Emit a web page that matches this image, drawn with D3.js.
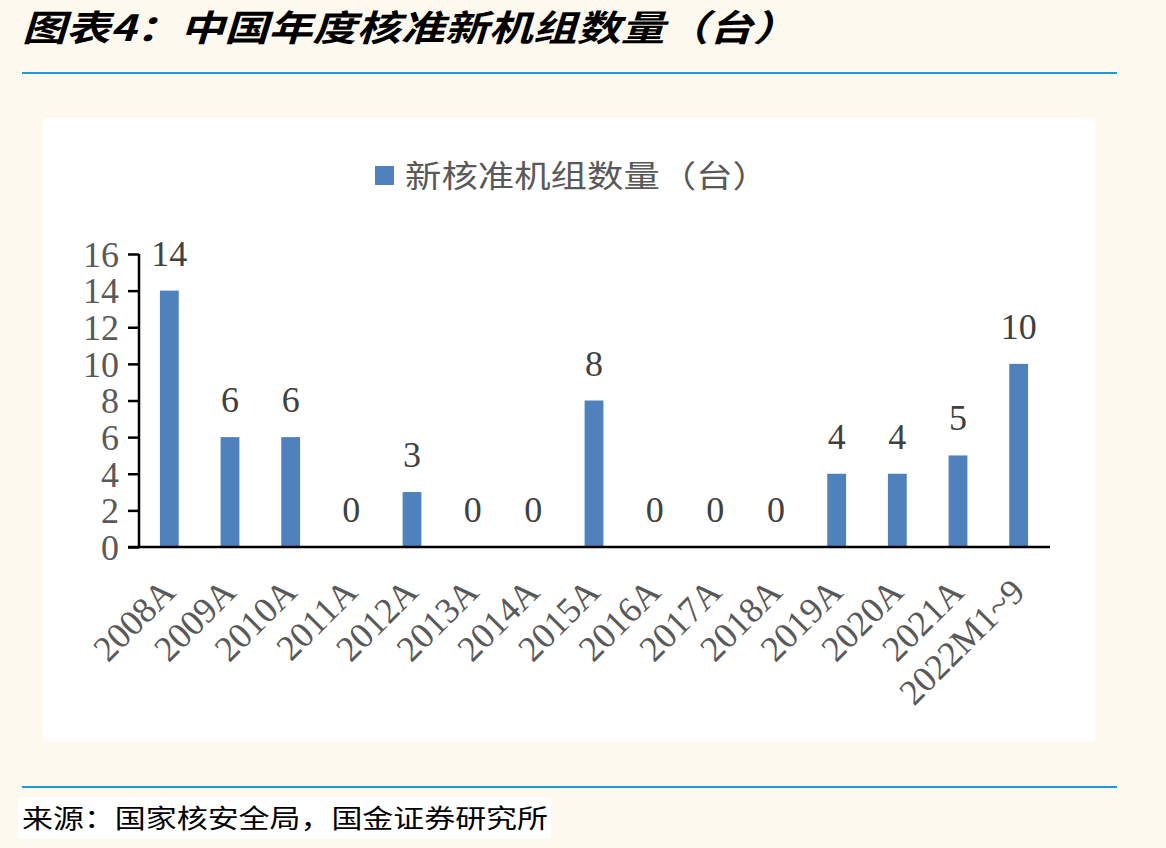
<!DOCTYPE html>
<html><head><meta charset="utf-8">
<script src="https://cdn.jsdelivr.net/npm/d3@7/dist/d3.min.js"></script>
<style>html,body{margin:0;padding:0;background:#fef9ee;}svg{display:block;}</style>
</head><body>
<script>
const categories = ["2008A","2009A","2010A","2011A","2012A","2013A","2014A","2015A","2016A","2017A","2018A","2019A","2020A","2021A","2022M1~9"];
const values = [14,6,6,0,3,0,0,8,0,0,0,4,4,5,10];
const yTicks = [0,2,4,6,8,10,12,14,16];
const seriesName = "新核准机组数量（台）";
const titleText = "图表4：中国年度核准新机组数量（台）";
const sourceText = "来源：国家核安全局，国金证券研究所";

const W = 1166, H = 848;
const svg = d3.select("body").append("svg").attr("width", W).attr("height", H);
svg.append("rect").attr("width", W).attr("height", H).attr("fill", "#fef9ee");

// title
svg.append("text").attr("x", 22).attr("y", 41)
  .attr("font-family", "'Noto Sans CJK SC'").attr("font-weight", "bold").attr("font-style", "italic")
  .attr("font-size", 36).attr("fill", "#000")
  .attr("textLength", 775).attr("lengthAdjust", "spacingAndGlyphs")
  .text(titleText);
svg.append("line").attr("x1", 22).attr("x2", 1117).attr("y1", 73).attr("y2", 73)
  .attr("stroke", "#1a9ad8").attr("stroke-width", 2);

// panel
svg.append("rect").attr("x", 43).attr("y", 118).attr("width", 1052).attr("height", 624).attr("fill", "#ffffff");

// bottom line & source
svg.append("line").attr("x1", 22).attr("x2", 1117).attr("y1", 787).attr("y2", 787)
  .attr("stroke", "#1a9ad8").attr("stroke-width", 2);
svg.append("rect").attr("x", 18).attr("y", 797).attr("width", 533).attr("height", 42).attr("fill", "#ffffff");
svg.append("text").attr("x", 22).attr("y", 828)
  .attr("font-family", "'Noto Sans CJK SC'").attr("font-size", 26).attr("fill", "#000")
  .attr("textLength", 526).attr("lengthAdjust", "spacingAndGlyphs")
  .text(sourceText);

// scales
const x = d3.scaleBand().domain(categories).range([139, 1049]).paddingInner(0.69).paddingOuter(0.345);
const y = d3.scaleLinear().domain([0, 16]).range([547, 254]);

// bars
svg.append("g").selectAll("rect").data(values).join("rect")
  .attr("x", (d, i) => x(categories[i]))
  .attr("width", x.bandwidth())
  .attr("y", d => y(d))
  .attr("height", d => y(0) - y(d))
  .attr("fill", "#4f81bd");

// y axis
const yAxis = svg.append("g").attr("transform", "translate(139,0)")
  .call(d3.axisLeft(y).tickValues(yTicks).tickSize(11).tickPadding(9).tickFormat(d3.format("d")));
yAxis.select(".domain").attr("stroke", "#000").attr("stroke-width", 2.5).attr("d", "M0,254V547");
yAxis.selectAll(".tick line").attr("stroke", "#000").attr("stroke-width", 2.5);
yAxis.selectAll(".tick text").attr("font-family", "'Liberation Serif'").attr("font-size", 36)
  .attr("fill", "#595959").attr("dy", "0.34em");

// x axis
const xAxis = svg.append("g").attr("transform", "translate(0,547)")
  .call(d3.axisBottom(x).tickSize(0).tickPadding(0));
xAxis.select(".domain").attr("stroke", "#000").attr("stroke-width", 2.5).attr("d", "M128,0H1050");
xAxis.selectAll(".tick text")
  .attr("font-family", "'Liberation Serif'").attr("font-size", 36).attr("fill", "#595959")
  .attr("text-anchor", "end").attr("dy", 0).attr("y", 0)
  .attr("transform", "translate(8,47) rotate(-45)");

// data labels
svg.append("g").selectAll("text").data(values).join("text")
  .attr("x", (d, i) => x(categories[i]) + x.bandwidth() / 2)
  .attr("y", d => y(d) - 25)
  .attr("text-anchor", "middle")
  .attr("font-family", "'Liberation Serif'").attr("font-size", 36).attr("fill", "#404040")
  .text(d => d);

// legend
svg.append("rect").attr("x", 375).attr("y", 166).attr("width", 19).attr("height", 19).attr("fill", "#4f81bd");
svg.append("text").attr("x", 405).attr("y", 187)
  .attr("font-family", "'Noto Sans CJK SC'").attr("font-size", 31).attr("fill", "#595959")
  .attr("textLength", 364).attr("lengthAdjust", "spacingAndGlyphs")
  .text(seriesName);
</script>
</body></html>
